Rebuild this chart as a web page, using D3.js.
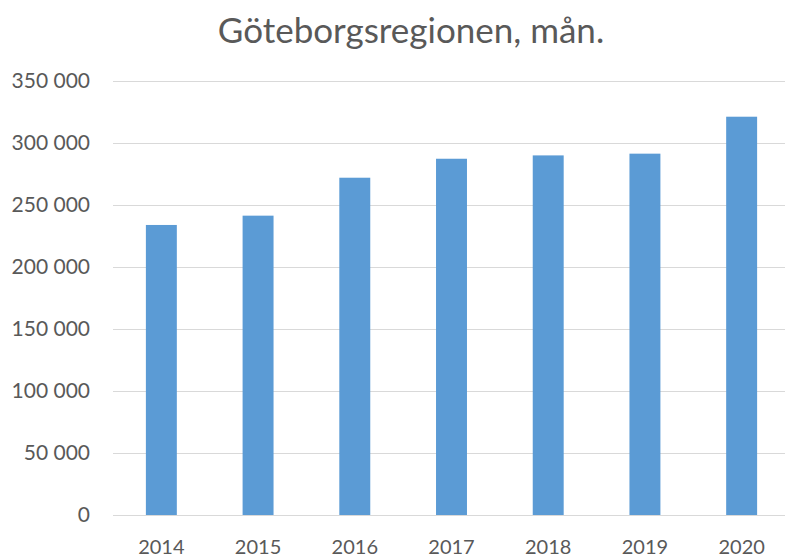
<!DOCTYPE html>
<html>
<head>
<meta charset="utf-8">
<script src="https://cdn.jsdelivr.net/npm/d3@7"></script>
<style>
  body { margin: 0; background: #fff; }
  text { font-family: Lato, "Open Sans", sans-serif; fill: #595959; }
</style>
</head>
<body>
<div class="chart"></div>
<script>
const width = 791
const height = 557

// data
const years = ["2014", "2015", "2016", "2017", "2018", "2019", "2020"]
const values = [233900, 241400, 272000, 287300, 290000, 291400, 321200]
const yTicks = [0, 50000, 100000, 150000, 200000, 250000, 300000, 350000]
const title = "Göteborgsregionen, mån."

const margin = { top: 81, right: 1, bottom: 42, left: 113 }

const svg = d3.select('.chart')
    .append('svg')
    .attr('width', width)
    .attr('height', height)

const x = d3.scaleBand()
    .domain(years)
    .range([margin.left, width - margin.right])
    .paddingInner(0.68)
    .paddingOuter(0.34)

const y = d3.scaleLinear()
    .domain([0, 350000])
    .range([height - margin.bottom, margin.top])

const fmt = d => d3.format(",")(d).replace(/,/g, " ")

// gridlines
svg.append("g")
    .selectAll("line")
    .data(yTicks)
    .join("line")
        .attr("x1", margin.left)
        .attr("x2", width - 6)
        .attr("y1", d => Math.round(y(d)) + 0.5)
        .attr("y2", d => Math.round(y(d)) + 0.5)
        .attr("stroke", "#d9d9d9")
        .attr("stroke-width", 1)

// y labels
svg.append("g")
    .selectAll("text")
    .data(yTicks)
    .join("text")
        .attr("x", 90)
        .attr("y", d => y(d))
        .attr("dy", "0.35em")
        .attr("text-anchor", "end")
        .attr("font-size", "21px")
        .text(fmt)

// bars
svg.append("g")
    .selectAll("rect")
    .data(values)
    .join("rect")
        .attr("x", (d, i) => x(years[i]))
        .attr("y", d => y(d))
        .attr("width", x.bandwidth())
        .attr("height", d => y(0) - y(d))
        .attr("fill", "#5b9bd5")

// x labels
svg.append("g")
    .selectAll("text")
    .data(years)
    .join("text")
        .attr("x", d => x(d) + x.bandwidth() / 2)
        .attr("y", 547)
        .attr("dy", "0.35em")
        .attr("text-anchor", "middle")
        .attr("font-size", "20px")
        .text(d => d)

// title
svg.append("text")
    .attr("x", 411)
    .attr("y", 43)
    .attr("text-anchor", "middle")
    .attr("font-size", "35px")
    .text(title)
</script>
</body>
</html>
